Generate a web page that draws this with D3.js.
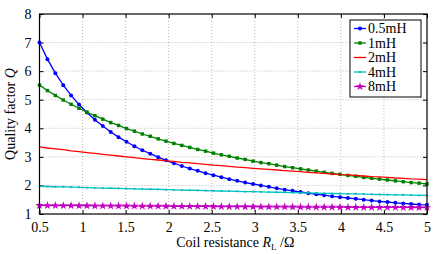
<!DOCTYPE html>
<html>
<head>
<meta charset="utf-8">
<script src="https://cdn.jsdelivr.net/npm/d3@7"></script>
<style>
  html, body { margin: 0; padding: 0; background: #fff; }
  svg { display: block; font-family: "Liberation Serif", "Times New Roman", serif; }
</style>
</head>
<body>
<div id="container"></div>
<script>
// ---------- DATA ----------
const resistance = [
  0.500, 0.592, 0.684, 0.776, 0.867, 0.959, 1.051, 1.143, 1.235, 1.327,
  1.418, 1.510, 1.602, 1.694, 1.786, 1.878, 1.969, 2.061, 2.153, 2.245,
  2.337, 2.429, 2.520, 2.612, 2.704, 2.796, 2.888, 2.980, 3.071, 3.163,
  3.255, 3.347, 3.439, 3.531, 3.622, 3.714, 3.806, 3.898, 3.990, 4.082,
  4.173, 4.265, 4.357, 4.449, 4.541, 4.633, 4.724, 4.816, 4.908, 5.000
];
const q05mH = [
  7.00, 6.42, 5.93, 5.51, 5.15, 4.83, 4.55, 4.30, 4.08, 3.87,
  3.69, 3.53, 3.37, 3.23, 3.11, 2.99, 2.88, 2.78, 2.68, 2.59,
  2.51, 2.43, 2.36, 2.29, 2.22, 2.16, 2.10, 2.05, 2.00, 1.95,
  1.90, 1.85, 1.81, 1.77, 1.73, 1.69, 1.66, 1.62, 1.59, 1.56,
  1.53, 1.50, 1.47, 1.44, 1.42, 1.39, 1.37, 1.35, 1.33, 1.32
];
const q1mH = [
  5.51, 5.32, 5.15, 4.99, 4.84, 4.70, 4.56, 4.44, 4.32, 4.20,
  4.10, 3.99, 3.90, 3.80, 3.72, 3.63, 3.55, 3.47, 3.40, 3.33,
  3.26, 3.20, 3.13, 3.07, 3.02, 2.96, 2.91, 2.85, 2.80, 2.76,
  2.71, 2.66, 2.62, 2.58, 2.54, 2.50, 2.46, 2.42, 2.39, 2.35,
  2.32, 2.28, 2.25, 2.22, 2.19, 2.16, 2.13, 2.10, 2.08, 2.05
];
const q2mH = [
  3.35, 3.31, 3.28, 3.25, 3.21, 3.18, 3.15, 3.12, 3.09, 3.06,
  3.03, 3.00, 2.97, 2.94, 2.91, 2.89, 2.86, 2.84, 2.81, 2.79,
  2.76, 2.74, 2.71, 2.69, 2.67, 2.64, 2.62, 2.60, 2.58, 2.56,
  2.54, 2.52, 2.50, 2.48, 2.46, 2.44, 2.42, 2.40, 2.38, 2.37,
  2.35, 2.33, 2.31, 2.30, 2.28, 2.26, 2.25, 2.23, 2.22, 2.20
];
const q4mH = [
  1.970, 1.962, 1.954, 1.947, 1.939, 1.932, 1.924, 1.917, 1.909, 1.902,
  1.895, 1.888, 1.881, 1.873, 1.866, 1.859, 1.853, 1.846, 1.839, 1.832,
  1.825, 1.819, 1.812, 1.805, 1.799, 1.792, 1.786, 1.780, 1.773, 1.767,
  1.761, 1.755, 1.748, 1.742, 1.736, 1.730, 1.724, 1.718, 1.712, 1.706,
  1.701, 1.695, 1.689, 1.683, 1.678, 1.672, 1.666, 1.661, 1.655, 1.650
];
const q8mH = [
  1.299, 1.297, 1.296, 1.294, 1.292, 1.291, 1.289, 1.287, 1.286, 1.284,
  1.282, 1.281, 1.279, 1.278, 1.276, 1.274, 1.273, 1.271, 1.270, 1.267,
  1.266, 1.264, 1.263, 1.261, 1.259, 1.258, 1.256, 1.255, 1.253, 1.251,
  1.250, 1.248, 1.247, 1.245, 1.244, 1.242, 1.241, 1.239, 1.238, 1.236,
  1.235, 1.234, 1.233, 1.232, 1.231, 1.230, 1.229, 1.228, 1.227, 1.226
];
const seriesNames = ['0.5mH', '1mH', '2mH', '4mH', '8mH'];
const xTicks = [0.5, 1, 1.5, 2, 2.5, 3, 3.5, 4, 4.5, 5];
const yTicks = [1, 2, 3, 4, 5, 6, 7, 8];

// ---------- STYLE ----------
const series = [
  { name: seriesNames[0], values: q05mH, color: '#0000ff', marker: 'circle' },
  { name: seriesNames[1], values: q1mH,  color: '#008000', marker: 'square' },
  { name: seriesNames[2], values: q2mH,  color: '#ff0000', marker: null },
  { name: seriesNames[3], values: q4mH,  color: '#00bfbf', marker: 'dot' },
  { name: seriesNames[4], values: q8mH,  color: '#bf00bf', marker: 'star' }
];

// ---------- DIMENSIONS ----------
const width = 443;
const height = 254;
const marginTop = 14;
const marginRight = 16;
const marginBottom = 40;
const marginLeft = 39.5;

const svg = d3.create('svg')
  .attr('width', width)
  .attr('height', height);

const x = d3.scaleLinear()
  .domain([0.5, 5])
  .range([marginLeft, width - marginRight]);

const y = d3.scaleLinear()
  .domain([1, 8])
  .range([height - marginBottom, marginTop]);

// ---------- GRID ----------
const grid = svg.append('g')
  .attr('stroke', '#a8a8a8')
  .attr('stroke-width', 0.8)
  .attr('stroke-dasharray', '1,2');

grid.selectAll('.vx')
  .data(xTicks.slice(1, -1))
  .join('line')
  .attr('x1', d => x(d)).attr('x2', d => x(d))
  .attr('y1', y(1)).attr('y2', y(8));

grid.selectAll('.hy')
  .data(yTicks.slice(1, -1))
  .join('line')
  .attr('x1', x(0.5)).attr('x2', x(5))
  .attr('y1', d => y(d)).attr('y2', d => y(d));

// ---------- AXES ----------
const fmt = d => String(d);
const tickLen = 4;

svg.append('g')
  .attr('transform', `translate(0,${y(1)})`)
  .call(d3.axisBottom(x).tickValues(xTicks).tickFormat(fmt).tickSizeInner(-tickLen).tickSizeOuter(0).tickPadding(8))
  .call(g => g.select('.domain').remove())
  .call(g => g.selectAll('text').attr('font-size', 14).attr('font-family', 'Liberation Serif').attr('fill', '#000'));

svg.append('g')
  .attr('transform', `translate(0,${y(8)})`)
  .call(d3.axisTop(x).tickValues(xTicks).tickFormat('').tickSizeInner(-tickLen).tickSizeOuter(0))
  .call(g => g.select('.domain').remove());

svg.append('g')
  .attr('transform', `translate(${x(0.5)},0)`)
  .call(d3.axisLeft(y).tickValues(yTicks).tickFormat(fmt).tickSizeInner(-tickLen).tickSizeOuter(0).tickPadding(8))
  .call(g => g.select('.domain').remove())
  .call(g => g.selectAll('text').attr('font-size', 14).attr('font-family', 'Liberation Serif').attr('fill', '#000'));

svg.append('g')
  .attr('transform', `translate(${x(5)},0)`)
  .call(d3.axisRight(y).tickValues(yTicks).tickFormat('').tickSizeInner(-tickLen).tickSizeOuter(0))
  .call(g => g.select('.domain').remove());

// ---------- LINES ----------
const line = d3.line()
  .x((d, i) => x(resistance[i]))
  .y(d => y(d));

const star = d3.symbol().type(d3.symbolStar).size(22);
const square = d3.symbol().type(d3.symbolSquare).size(12);

function drawMarker(g, kind, color, cx, cy) {
  if (kind === 'circle') {
    g.append('circle').attr('cx', cx).attr('cy', cy).attr('r', 2).attr('fill', color);
  } else if (kind === 'square') {
    g.append('path').attr('d', square).attr('transform', `translate(${cx},${cy})`).attr('fill', color);
  } else if (kind === 'dot') {
    g.append('circle').attr('cx', cx).attr('cy', cy).attr('r', 1.1).attr('fill', color);
  } else if (kind === 'star') {
    g.append('path').attr('d', star).attr('transform', `translate(${cx},${cy})`).attr('fill', color);
  }
}

const plot = svg.append('g');

series.forEach(s => {
  plot.append('path')
    .datum(s.values)
    .attr('fill', 'none')
    .attr('stroke', s.color)
    .attr('stroke-width', 1.3)
    .attr('d', line);
  if (s.marker) {
    const mg = plot.append('g');
    s.values.forEach((v, i) => drawMarker(mg, s.marker, s.color, x(resistance[i]), y(v)));
  }
});

// ---------- FRAME ----------
svg.append('rect')
  .attr('x', x(0.5)).attr('y', y(8))
  .attr('width', x(5) - x(0.5)).attr('height', y(1) - y(8))
  .attr('fill', 'none').attr('stroke', '#000').attr('stroke-width', 1.2);

// ---------- LEGEND ----------
const legend = svg.append('g').attr('transform', 'translate(350,20)');
legend.append('rect')
  .attr('width', 71).attr('height', 77)
  .attr('fill', '#fff').attr('stroke', '#000').attr('stroke-width', 1);

series.forEach((s, i) => {
  const ly = 8.5 + i * 14.5;
  const row = legend.append('g');
  row.append('line')
    .attr('x1', 4).attr('x2', 16).attr('y1', ly).attr('y2', ly)
    .attr('stroke', s.color).attr('stroke-width', 1.3);
  drawMarker(row, s.marker, s.color, 10, ly);
  row.append('text')
    .attr('x', 18).attr('y', ly + 4.5)
    .attr('font-size', 14)
    .text(s.name);
});

// ---------- LABELS ----------
const xl = svg.append('text')
  .attr('x', (x(0.5) + x(5)) / 2 + 2)
  .attr('y', 247)
  .attr('text-anchor', 'middle')
  .attr('font-size', 14);
xl.append('tspan').text('Coil resistance ');
xl.append('tspan').attr('font-style', 'italic').text('R');
xl.append('tspan').attr('font-size', 9).attr('dy', 3).text('L');
xl.append('tspan').attr('dy', -3).text(' /Ω');

const yl = svg.append('text')
  .attr('transform', `translate(15,${(y(1) + y(8)) / 2}) rotate(-90)`)
  .attr('text-anchor', 'middle')
  .attr('font-size', 14);
yl.append('tspan').text('Quality factor ');
yl.append('tspan').attr('font-style', 'italic').text('Q');

document.getElementById('container').append(svg.node());
</script>
</body>
</html>
